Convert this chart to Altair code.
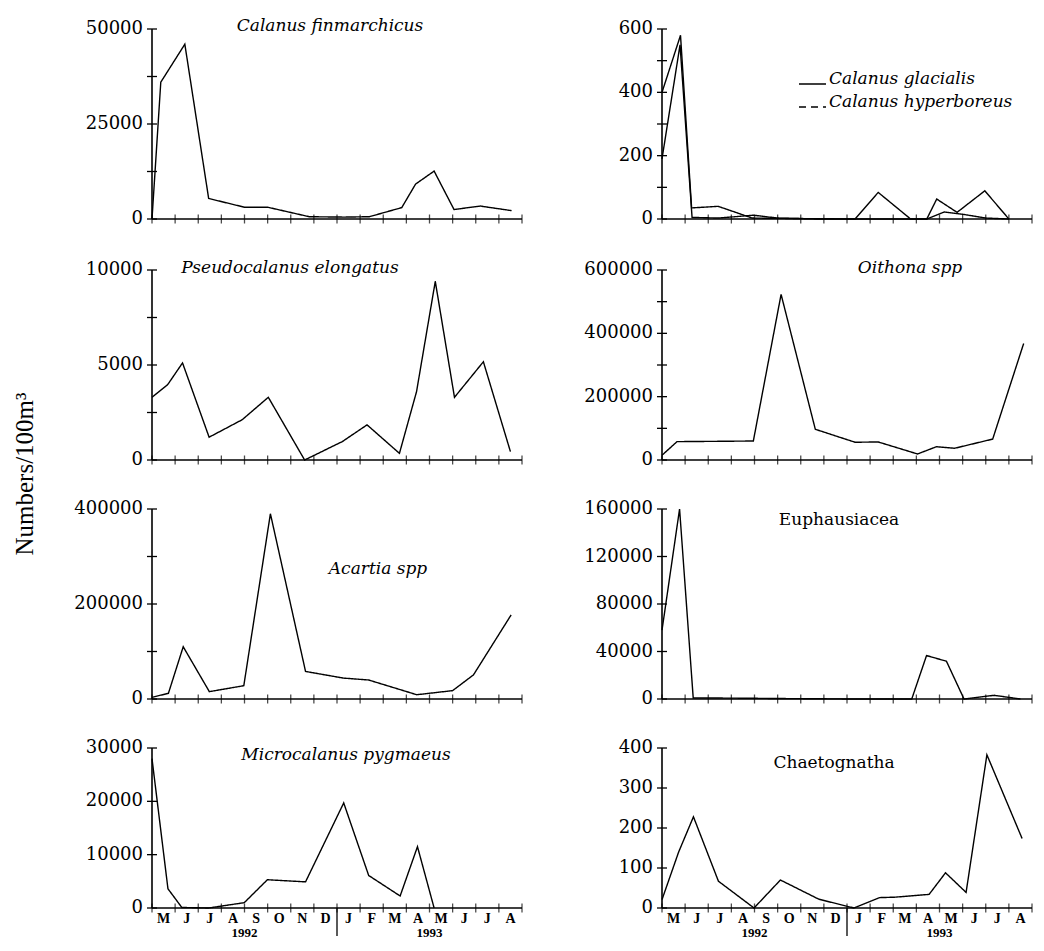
import altair as alt
import pandas as pd

# ---------------- data (month index: 0 = start of May 1992, 16 = end of Aug 1993)
MONTHS = ["M", "J", "J", "A", "S", "O", "N", "D", "J", "F", "M", "A", "M", "J", "J", "A"]
YEARS = ["1992", "1993"]
YEAR_POS = [4, 12]
SEPARATOR_POS = [8]
MONTH_TICKS = list(range(17))

fin_m = [0, 0.38, 1.42, 2.45, 4.0, 5.0, 6.8, 8.3, 9.4, 10.8, 11.4, 12.2, 13.06, 14.2, 15.55]
fin_v = [0, 36000, 46000, 5400, 3100, 3100, 600, 500, 600, 3000, 9200, 12600, 2500, 3400, 2200]

gla_m = [0, 0.8, 1.28, 2.43, 3.9, 5.0, 6.7, 8.35, 9.35, 10.75, 11.45, 11.88, 12.76, 13.96, 15.0]
gla_v = [400, 580, 35, 40, 3, 2, 1, 0, 0, 0, 0, 63, 21, 89, 0]
hyp_m = [0, 0.78, 1.3, 2.45, 3.95, 5.0, 6.7, 8.35, 9.35, 10.75, 11.45, 12.2, 13.0, 14.0, 15.0]
hyp_v = [190, 550, 5, 3, 12, 3, 0, 0, 84, 0, 0, 22, 15, 3, 0]

pse_m = [0, 0.68, 1.32, 2.47, 3.9, 5.03, 6.6, 8.23, 9.3, 10.7, 11.44, 12.25, 13.08, 14.33, 15.5]
pse_v = [3300, 3970, 5110, 1200, 2120, 3300, 0, 970, 1850, 350, 3600, 9400, 3300, 5170, 440]

oit_m = [0, 0.65, 2.45, 3.95, 5.15, 6.63, 8.35, 9.35, 11.05, 11.87, 12.65, 14.3, 15.64]
oit_v = [15000, 58000, 59000, 60000, 523000, 97000, 56000, 57000, 19000, 42000, 37000, 66000, 368000]

aca_m = [0, 0.71, 1.35, 2.48, 3.97, 5.12, 6.64, 8.28, 9.37, 11.45, 13.0, 13.9, 15.53]
aca_v = [3500, 12000, 110000, 15500, 28000, 390000, 58000, 44000, 40000, 9000, 17600, 50700, 177000]

eup_m = [0, 0.15, 0.76, 1.35, 2.45, 4.0, 5.0, 6.7, 8.3, 9.35, 10.8, 11.44, 12.3, 13.06, 14.36, 15.5]
eup_v = [58000, 78000, 160000, 800, 800, 600, 400, 200, 0, 0, 0, 36600, 31800, 0, 3100, 0]

mic_m = [0, 0.69, 1.29, 2.45, 3.99, 4.99, 6.64, 8.29, 9.37, 10.73, 11.48, 12.2]
mic_v = [28000, 3600, 100, 0, 1000, 5300, 4900, 19700, 6100, 2250, 11500, 0]

cha_m = [0, 0.72, 1.36, 2.44, 3.98, 5.12, 6.78, 8.3, 9.41, 10.06, 11.55, 12.26, 13.15, 14.05, 15.57]
cha_v = [21, 140, 228, 67, 0, 70, 22, 0, 26, 27, 34, 88, 39, 383, 174]

# ---------------- styling
SERIF = "DejaVu Serif"
TIMES = "Liberation Serif"
W = 370


def panel(series, ymax, ystep, lstep, h, title=None, title_xy=(0, 0), italic=True,
          legend=False, bottom=False):
    names = [s[0] for s in series]
    dashes = [s[3] for s in series]
    df = pd.concat([pd.DataFrame({"m": s[1], "v": s[2], "s": s[0]}) for s in series])
    xs = alt.Scale(domain=[0, 16], nice=False, zero=False)
    ys = alt.Scale(domain=[0, ymax], nice=False)
    yticks = list(range(0, ymax + 1, ystep))
    ylabels = list(range(0, ymax + 1, lstep))

    lines = alt.Chart(df).mark_line(color="black", strokeWidth=1.4).encode(
        x=alt.X("m:Q", scale=xs, axis=None),
        y=alt.Y("v:Q", scale=ys, axis=None),
        strokeDash=alt.StrokeDash("s:N", scale=alt.Scale(domain=names, range=dashes), legend=None),
    )
    ydomain = alt.Chart(pd.DataFrame({"v": [ymax]})).mark_rule(color="black", strokeWidth=1.6).encode(
        y=alt.Y("v:Q", scale=ys, axis=None), y2=alt.value(h), x=alt.value(0))
    xdomain = alt.Chart(pd.DataFrame({"v": [0]})).mark_rule(color="black", strokeWidth=1.6).encode(
        y=alt.Y("v:Q", scale=ys, axis=None), x=alt.value(0), x2=alt.value(W))
    ytick = alt.Chart(pd.DataFrame({"v": yticks})).mark_rule(color="black", strokeWidth=1.3).encode(
        y=alt.Y("v:Q", scale=ys, axis=None), x=alt.value(-5), x2=alt.value(5))
    xtick = alt.Chart(pd.DataFrame({"m": MONTH_TICKS, "v": [0] * len(MONTH_TICKS)})).mark_tick(
        color="black", thickness=1.3, size=9, orient="vertical").encode(
        x=alt.X("m:Q", scale=xs, axis=None), y=alt.Y("v:Q", scale=ys, axis=None))
    ylab = alt.Chart(pd.DataFrame({"v": ylabels, "t": [str(v) for v in ylabels]})).mark_text(
        font=SERIF, fontSize=18, align="right", baseline="middle", color="black").encode(
        y=alt.Y("v:Q", scale=ys, axis=None), x=alt.value(-9), text="t:N")
    layers = [lines, ydomain, xdomain, ytick, xtick, ylab]

    if title:
        layers.append(alt.Chart(pd.DataFrame({"t": [title]})).mark_text(
            font=SERIF, fontSize=17, fontStyle="italic" if italic else "normal",
            align="center", baseline="middle", color="black").encode(
            x=alt.value(title_xy[0]), y=alt.value(title_xy[1]), text="t:N"))

    if legend:
        for i, (name, dash) in enumerate(zip(names, dashes)):
            yy = 52 + 23 * i
            layers.append(alt.Chart(pd.DataFrame({"s": [name]})).mark_rule(
                color="black", strokeWidth=1.3, strokeDash=dash).encode(
                x=alt.value(137), x2=alt.value(164), y=alt.value(yy + 3)))
            layers.append(alt.Chart(pd.DataFrame({"t": [name]})).mark_text(
                font=SERIF, fontSize=17, fontStyle="italic", align="left", baseline="middle",
                color="black").encode(x=alt.value(167), y=alt.value(yy - 2), text="t:N"))

    if bottom:
        mdf = pd.DataFrame({"m": [i + 0.5 for i in range(len(MONTHS))], "t": MONTHS})
        layers.append(alt.Chart(mdf).mark_text(font=TIMES, fontSize=14, fontWeight="bold",
                                               baseline="middle", color="black").encode(
            x=alt.X("m:Q", scale=xs, axis=None), y=alt.value(h + 11), text="t:N"))
        ydf = pd.DataFrame({"m": YEAR_POS, "t": YEARS})
        layers.append(alt.Chart(ydf).mark_text(font=TIMES, fontSize=13, fontWeight="bold",
                                               baseline="middle", color="black").encode(
            x=alt.X("m:Q", scale=xs, axis=None), y=alt.value(h + 25), text="t:N"))
        layers.append(alt.Chart(pd.DataFrame({"m": SEPARATOR_POS})).mark_rule(
            color="black", strokeWidth=1.3).encode(
            x=alt.X("m:Q", scale=xs, axis=None), y=alt.value(h), y2=alt.value(h + 28)))

    return alt.layer(*layers).properties(width=W, height=h)


SOLID = [1, 0]
DASH = [7, 5]

p1 = panel([("Calanus finmarchicus", fin_m, fin_v, SOLID)], 50000, 12500, 25000, 190,
           "Calanus finmarchicus", (178, -3))
p2 = panel([("Calanus glacialis", gla_m, gla_v, SOLID), ("Calanus hyperboreus", hyp_m, hyp_v, DASH)],
           600, 100, 200, 190, legend=True)
p3 = panel([("Pseudocalanus elongatus", pse_m, pse_v, SOLID)], 10000, 2500, 5000, 190,
           "Pseudocalanus elongatus", (138, -2))
p4 = panel([("Oithona spp", oit_m, oit_v, SOLID)], 600000, 100000, 200000, 190,
           "Oithona spp", (248, -2))
p5 = panel([("Acartia spp", aca_m, aca_v, SOLID)], 400000, 100000, 200000, 190,
           "Acartia spp", (226, 60))
p6 = panel([("Euphausiacea", eup_m, eup_v, SOLID)], 160000, 40000, 40000, 190,
           "Euphausiacea", (177, 11), italic=False)
p7 = panel([("Microcalanus pygmaeus", mic_m, mic_v, SOLID)], 30000, 10000, 10000, 160,
           "Microcalanus pygmaeus", (194, 7), bottom=True)
p8 = panel([("Chaetognatha", cha_m, cha_v, SOLID)], 400, 100, 100, 160,
           "Chaetognatha", (172, 15), italic=False, bottom=True)

grid = alt.concat(p1, p2, p3, p4, p5, p6, p7, p8, columns=2, spacing={"row": 31, "column": 61})

ylabel = alt.Chart(pd.DataFrame({"t": ["Numbers/100m³"]})).mark_text(
    font=TIMES, fontSize=25, angle=270, align="center", baseline="middle", color="black").encode(
    x=alt.value(12), y=alt.value(445), text="t:N").properties(width=30, height=900)

chart = alt.hconcat(ylabel, grid, spacing=31).properties(
    padding={"left": 5, "top": 9, "right": 0, "bottom": 0}, background="white"
).configure_view(strokeWidth=0)

chart.save("out.html", embed_options={"renderer": "svg", "actions": False})
